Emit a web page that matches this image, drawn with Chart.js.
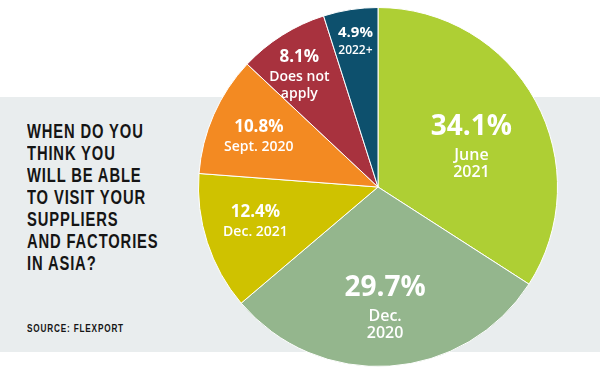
<!DOCTYPE html>
<html>
<head>
<meta charset="utf-8">
<script src="https://cdn.jsdelivr.net/npm/chart.js@4.4.0/dist/chart.umd.min.js"></script>
<style>
  html, body { margin: 0; padding: 0; background: #fff; }
  #wrap { position: relative; width: 600px; height: 375px; overflow: hidden; }
  #band { position: absolute; left: 0; top: 97px; width: 600px; height: 255px; background: #e9edee; }
  #title {
    position: absolute; left: 27px; top: 120px;
    font-family: "Liberation Sans", Arial, sans-serif;
    font-weight: bold; font-size: 20.5px; line-height: 22px; letter-spacing: 1.2px;
    color: #151515; white-space: nowrap;
    transform: scaleX(0.72); transform-origin: 0 0;
  }
  #source {
    position: absolute; left: 27px; top: 323px;
    font-family: "Liberation Sans", Arial, sans-serif;
    font-weight: bold; font-size: 10px; letter-spacing: 1px; color: #151515;
    white-space: nowrap; transform: scaleX(0.82); transform-origin: 0 0;
  }
  #pie { position: absolute; left: 0; top: 0; }
</style>
</head>
<body>
<div id="wrap">
  <div id="band"></div>
  <div id="title">WHEN DO YOU<br>THINK YOU<br>WILL BE ABLE<br>TO VISIT YOUR<br>SUPPLIERS<br>AND FACTORIES<br>IN ASIA?</div>
  <div id="source">SOURCE: FLEXPORT</div>
  <canvas id="pie" width="600" height="375"></canvas>
</div>
<script>
// answers, clockwise from 12 o'clock
const categories = ["June\n2021", "Dec.\n2020", "Dec. 2021", "Sept. 2020", "Does not\napply", "2022+"];
const shares = [34.1, 29.7, 12.4, 10.8, 8.1, 4.9];
const colors = ["#aecf34", "#94b68d", "#cfc200", "#f38a22", "#a8323e", "#0d506d"];

// label placement inside each slice (fraction of radius, angle nudge in degrees)
const labelRadius = [0.56, 0.69, 0.71, 0.72, 0.76, 0.82];
const labelNudge = [7, 0.5, 2, -1, -3, 0];
const pctSize = [28, 28, 17, 17, 17, 15];
const subSize = [16, 16, 14, 14, 14, 12];
const subLine = [17, 17, 16, 16, 17, 14];

const sliceLabels = {
  id: 'sliceLabels',
  afterDatasetsDraw(chart) {
    const ctx = chart.ctx;
    const meta = chart.getDatasetMeta(0);
    meta.data.forEach((arc, i) => {
      const mid = (arc.startAngle + arc.endAngle) / 2 + labelNudge[i] * Math.PI / 180;
      const r = arc.outerRadius * labelRadius[i];
      const cx = arc.x + Math.cos(mid) * r;
      const cy = arc.y + Math.sin(mid) * r;
      const lines = categories[i].split("\n");
      const gap = pctSize[i] * 0.62 + subSize[i] * 0.72;
      const span = gap + (lines.length - 1) * subLine[i];
      let y = cy - span / 2;
      ctx.save();
      ctx.fillStyle = "#ffffff";
      ctx.textAlign = "center";
      ctx.textBaseline = "middle";
      ctx.font = "bold " + pctSize[i] + "px 'Open Sans', sans-serif";
      ctx.fillText(shares[i].toFixed(1) + "%", cx, y);
      ctx.font = "600 " + subSize[i] + "px 'Open Sans', sans-serif";
      y += gap;
      lines.forEach(l => { ctx.fillText(l, cx, y); y += subLine[i]; });
      ctx.restore();
    });
  }
};

new Chart(document.getElementById('pie'), {
  type: 'pie',
  data: {
    labels: categories,
    datasets: [{
      data: shares,
      backgroundColor: colors,
      borderColor: "#ffffff",
      borderWidth: 1,
      hoverOffset: 0
    }]
  },
  options: {
    responsive: false,
    animation: false,
    layout: { padding: { left: 198, right: 42, top: 7, bottom: 8 } },
    plugins: {
      legend: { display: false },
      tooltip: { enabled: false }
    }
  },
  plugins: [sliceLabels]
});
</script>
</body>
</html>
